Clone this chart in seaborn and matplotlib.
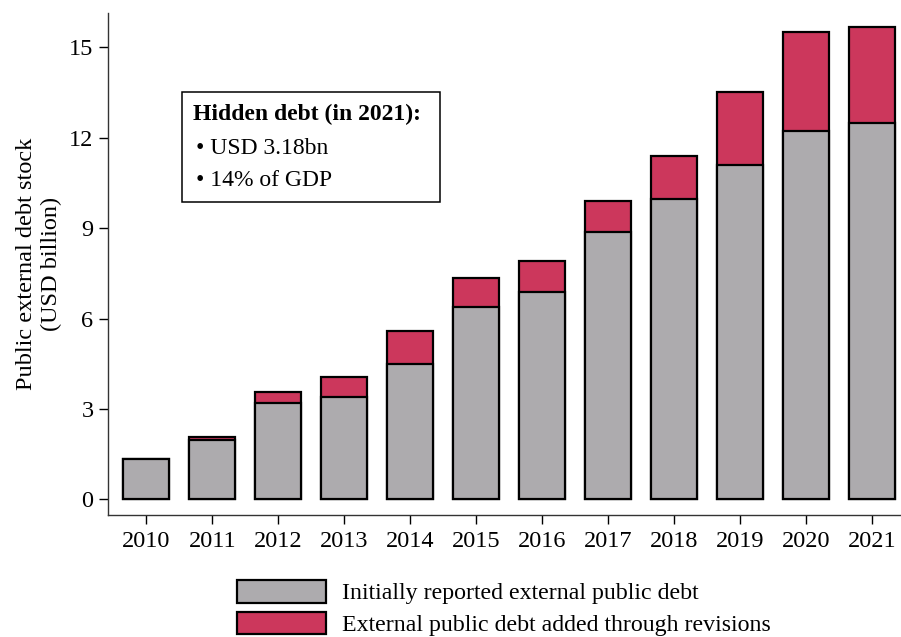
import matplotlib
matplotlib.use("Agg")
import matplotlib.pyplot as plt
import pandas as pd
import seaborn as sns
from matplotlib.patches import Patch, Rectangle

years = ["2010", "2011", "2012", "2013", "2014", "2015",
         "2016", "2017", "2018", "2019", "2020", "2021"]
initial_debt = [1.33, 1.96, 3.19, 3.39, 4.49, 6.37, 6.89, 8.88, 9.98, 11.11, 12.23, 12.50]
added_debt = [0.00, 0.10, 0.36, 0.67, 1.10, 0.96, 1.03, 1.03, 1.42, 2.42, 3.27, 3.17]

series_labels = ["Initially reported external public debt",
                 "External public debt added through revisions"]
box_title = "Hidden debt (in 2021):"
box_lines = ["\u2022 USD 3.18bn", "\u2022 14% of GDP"]
y_ticks = [0, 3, 6, 9, 12, 15]

GRAY = "#adabae"
RED = "#cc375c"

sns.set_theme(style="ticks")
plt.rcParams["font.family"] = ["Liberation Serif", "DejaVu Serif"]
plt.rcParams["text.color"] = "black"
plt.rcParams["axes.labelcolor"] = "black"
plt.rcParams["xtick.color"] = "black"
plt.rcParams["ytick.color"] = "black"

df = pd.DataFrame({"year": years, "initial": initial_debt, "added": added_debt})
df["total"] = df["initial"] + df["added"]

fig = plt.figure(figsize=(9.01, 6.37), dpi=100)
ax = fig.add_axes([0.1199, 0.1915, 0.879, 0.788])

# total first (red), initial on top (gray) -> stacked look
sns.barplot(data=df, x="year", y="total", color=RED, width=0.7,
            edgecolor="black", linewidth=1.6, saturation=1, ax=ax)
sns.barplot(data=df, x="year", y="initial", color=GRAY, width=0.7,
            edgecolor="black", linewidth=1.6, saturation=1, ax=ax)

ax.set_xlim(-0.58, 11.42)
ax.set_ylim(-0.52, 16.14)
ax.set_yticks(y_ticks)
ax.set_xlabel("")
ax.set_ylabel("Public external debt stock\n(USD billion)", fontsize=17.5,
              linespacing=1.25, labelpad=5)
ax.tick_params(axis="both", labelsize=17.5, length=6.5, width=1,
               direction="out", pad=4)
ax.tick_params(axis="x", pad=5)
for side in ["top", "right"]:
    ax.spines[side].set_visible(False)
for side in ["left", "bottom"]:
    ax.spines[side].set_linewidth(1)
    ax.spines[side].set_color("#333333")

# annotation box
fig.patches.append(Rectangle((182 / 901, 1 - 202 / 637), 258 / 901, 110 / 637,
                             transform=fig.transFigure, facecolor="white",
                             edgecolor="black", linewidth=1.1, zorder=5))
fig.text(193 / 901, 1 - 114 / 637, box_title, fontsize=17, fontweight="bold",
         va="center", ha="left", zorder=6)
fig.text(196 / 901, 1 - 148 / 637, box_lines[0], fontsize=17,
         va="center", ha="left", zorder=6)
fig.text(196 / 901, 1 - 181 / 637, box_lines[1], fontsize=17,
         va="center", ha="left", zorder=6)

handles = [Patch(facecolor=GRAY, edgecolor="black", linewidth=1.6),
           Patch(facecolor=RED, edgecolor="black", linewidth=1.6)]
fig.legend(handles, series_labels, loc="upper left",
           bbox_to_anchor=(232 / 901, 1 - 575 / 637), frameon=False,
           fontsize=17.2, handlelength=3.75, handleheight=1.1,
           handletextpad=0.65, labelspacing=0.3, borderaxespad=0, borderpad=0.2)

fig.savefig("out.png", dpi=100)
